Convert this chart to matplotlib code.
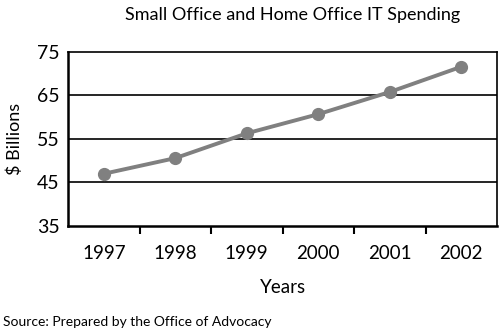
import matplotlib
matplotlib.use("Agg")
import matplotlib.pyplot as plt

years = ["1997", "1998", "1999", "2000", "2001", "2002"]
spending = [47.0, 50.6, 56.3, 60.7, 65.8, 71.6]
y_ticks = [35, 45, 55, 65, 75]

plt.rcParams['font.family'] = ['Lato', 'DejaVu Sans']

fig = plt.figure(figsize=(5, 3.32), dpi=100)
ax = fig.add_axes([0.136, 0.3193, 0.858, 0.5241])

x = list(range(len(years)))
ax.plot(x, spending, color="#808080", linewidth=2.8, marker="o", markersize=8.5,
        zorder=3)

# horizontal grid lines
for v in y_ticks[1:-1]:
    ax.axhline(v, color="black", linewidth=1.2, zorder=1)

ax.set_xlim(-0.5, len(years) - 0.5)
ax.set_ylim(35, 75)
ax.set_yticks(y_ticks)
ax.set_xticks(x)
ax.set_xticklabels(years)
ax.set_xticks([i + 0.5 for i in x[:-1]], minor=True)

ax.tick_params(axis="y", length=0, labelsize=14, pad=6)
ax.tick_params(axis="x", which="major", length=0, labelsize=13.5, pad=14)
ax.tick_params(axis="x", which="minor", length=6, width=1.5, direction="out")

for side in ["left", "bottom"]:
    ax.spines[side].set_linewidth(1.8)
for side in ["top", "right"]:
    ax.spines[side].set_linewidth(1.2)

ax.set_xlabel("Years", fontsize=13.5, labelpad=12)
ax.set_ylabel("$ Billions", fontsize=13, labelpad=10)
fig.text(0.585, 0.955, "Small Office and Home Office IT Spending", fontsize=13,
         ha="center", va="center")
fig.text(0.006, 0.03, "Source: Prepared by the Office of Advocacy", fontsize=10,
         ha="left", va="center")

plt.savefig("out.png", dpi=100)
plt.close()
